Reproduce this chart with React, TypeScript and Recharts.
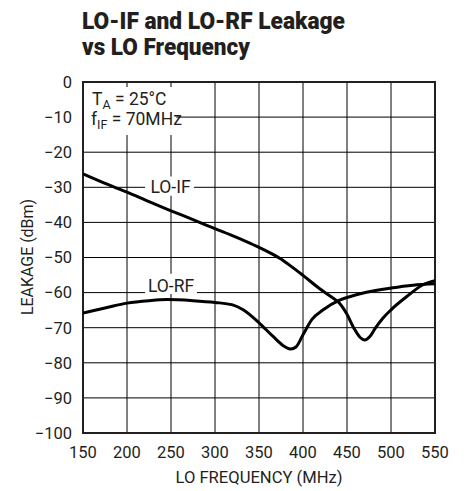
import React from 'react';
import { LineChart, Line, XAxis, YAxis, CartesianGrid, ReferenceArea } from 'recharts';

const freqTicks = [150, 200, 250, 300, 350, 400, 450, 500, 550];
const leakTicks = [0, -10, -20, -30, -40, -50, -60, -70, -80, -90, -100];

const loIfFreq = [150, 175, 200, 225, 250, 275, 300, 317, 335, 350, 362, 374, 387, 400, 419, 432, 441, 450, 458, 465, 470, 476, 482, 490, 500, 518, 537, 550];
const loIfLeak = [-26.2, -28.9, -31.4, -34.1, -36.7, -39.2, -41.8, -43.5, -45.4, -47.1, -48.6, -50.3, -52.6, -55.1, -58.9, -61.2, -62.9, -66.2, -70.2, -72.8, -73.5, -72.5, -70.2, -67.5, -64.9, -61.1, -57.7, -56.6];

const loRfFreq = [150, 175, 200, 225, 245, 275, 300, 320, 332, 350, 366, 380, 386, 392, 400, 410, 423, 441, 450, 472, 500, 525, 550];
const loRfLeak = [-65.8, -64.4, -63.0, -62.3, -62.0, -62.3, -62.8, -63.5, -64.9, -68.6, -72.5, -75.5, -76.1, -75.5, -72.0, -67.7, -64.9, -62.2, -61.4, -59.9, -58.7, -57.9, -57.5];

const loIfData = loIfFreq.map((f, i) => ({ f, v: loIfLeak[i] }));
const loRfData = loRfFreq.map((f, i) => ({ f, v: loRfLeak[i] }));

const FONT = 'Roboto, "Liberation Sans", Arial, sans-serif';

const fmtY = (v: number) => (v < 0 ? '\u2212' + Math.abs(v) : String(v));

export default function App() {
  return (
    <div style={{ position: 'absolute', left: 0, top: 0, width: 467, height: 491, background: '#fff' }}>
      <LineChart
        width={467}
        height={491}
        margin={{ top: 82, right: 32, bottom: 0, left: 0 }}
        style={{ fontFamily: FONT }}
      >
        <CartesianGrid stroke="#000" strokeWidth={1} />
        <XAxis
          type="number"
          dataKey="f"
          domain={[150, 550]}
          ticks={freqTicks}
          allowDataOverflow
          height={58}
          tickLine={false}
          axisLine={false}
          tickSize={6}
          tickMargin={7}
          tick={{ fill: '#231f20', fontSize: 16.5, fontFamily: FONT }}
        />
        <YAxis
          type="number"
          dataKey="v"
          domain={[-100, 0]}
          ticks={leakTicks}
          allowDataOverflow
          width={83}
          tickLine={false}
          axisLine={false}
          tickSize={6}
          tickMargin={5}
          tickFormatter={fmtY}
          tick={{ fill: '#231f20', fontSize: 16.5, fontFamily: FONT }}
        />
        <ReferenceArea x1={150} x2={256} y1={-15.1} y2={-1.4} fill="#fff" fillOpacity={1} stroke="none" />
        <ReferenceArea x1={220.5} x2={276} y1={-32.4} y2={-26.9} fill="#fff" fillOpacity={1} stroke="none" />
        <ReferenceArea x1={220.5} x2={279.5} y1={-60.4} y2={-54.6} fill="#fff" fillOpacity={1} stroke="none" />
        <ReferenceArea x1={150} x2={550} y1={-100} y2={0} fill="none" stroke="#231f20" strokeWidth={2} />
        <Line
          data={loIfData}
          dataKey="v"
          type="monotone"
          stroke="#000"
          strokeWidth={3}
          dot={false}
          isAnimationActive={false}
        />
        <Line
          data={loRfData}
          dataKey="v"
          type="monotone"
          stroke="#000"
          strokeWidth={3}
          dot={false}
          isAnimationActive={false}
        />
      </LineChart>
      <svg
        width={467}
        height={491}
        style={{ position: 'absolute', left: 0, top: 0, pointerEvents: 'none', fontFamily: FONT }}
      >
        <text x={82} y={29} fontSize={23} fontWeight={900} fill="#231f20" textLength={263} lengthAdjust="spacingAndGlyphs">
          LO-IF and LO-RF Leakage
        </text>
        <text x={82} y={55} fontSize={23} fontWeight={900} fill="#231f20" textLength={168} lengthAdjust="spacingAndGlyphs">
          vs LO Frequency
        </text>
        <text x={92} y={105} fontSize={17.5} fill="#231f20">
          T<tspan fontSize={12.5} dy={4}>A</tspan>
          <tspan dy={-4}> = 25°C</tspan>
        </text>
        <text x={91} y={125} fontSize={17.5} fill="#231f20">
          f<tspan fontSize={12.5} dy={4}>IF</tspan>
          <tspan dy={-4}> = 70MHz</tspan>
        </text>
        <text x={170.5} y={193.3} fontSize={17.5} fill="#231f20" textAnchor="middle">
          LO-IF
        </text>
        <text x={171} y={291.5} fontSize={17.5} fill="#231f20" textAnchor="middle">
          LO-RF
        </text>
        <text x={259} y={483} fontSize={16.5} fill="#231f20" textAnchor="middle" textLength={167} lengthAdjust="spacingAndGlyphs">
          LO FREQUENCY (MHz)
        </text>
        <text
          x={0}
          y={0}
          fontSize={16}
          fill="#231f20"
          textAnchor="middle"
          transform="translate(32.5,257) rotate(-90)"
          textLength={116}
          lengthAdjust="spacingAndGlyphs"
        >
          LEAKAGE (dBm)
        </text>
      </svg>
    </div>
  );
}
